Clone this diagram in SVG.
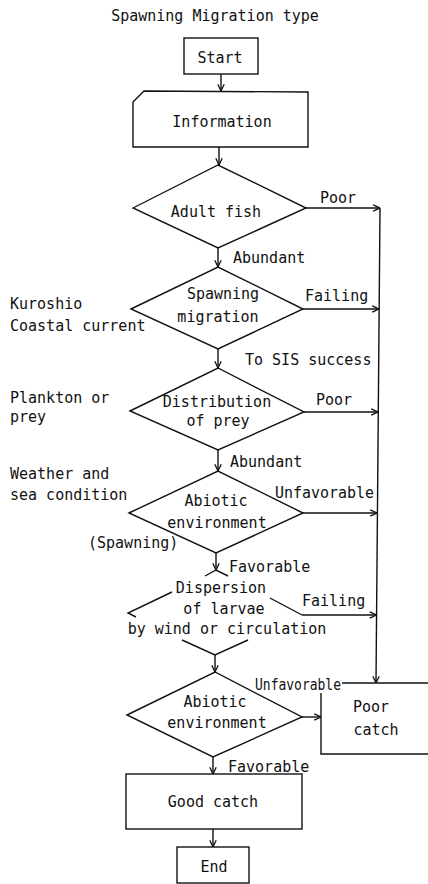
<svg xmlns="http://www.w3.org/2000/svg" width="428" height="884" viewBox="0 0 428 884">
<defs>
<style>
.s{fill:none;stroke:#111;stroke-width:1.4;stroke-linejoin:miter}
.n{fill:#fff;stroke:#111;stroke-width:1.4}
text{font-family:"DejaVu Sans Mono","Liberation Mono",monospace;font-size:15px;fill:#111}
.m{text-anchor:middle}
.c{fill:none;stroke:#111;stroke-width:1.4;marker-end:url(#ah)}
</style>
<marker id="ah" viewBox="0 0 10 10" refX="9.5" refY="5" markerWidth="8" markerHeight="8" markerUnits="userSpaceOnUse" orient="auto">
<path d="M1,1 L9.5,5 L1,9" fill="none" stroke="#111" stroke-width="1.6"/>
</marker>
</defs>
<rect width="428" height="884" fill="#fff"/>
<text x="215" y="21" class="m">Spawning Migration type</text>

<g id="connectors">
<line class="c" x1="221" y1="74" x2="221" y2="91"/>
<line class="c" x1="219" y1="147" x2="219" y2="165"/>
<line class="c" x1="218" y1="248" x2="218" y2="267"/>
<line class="c" x1="218" y1="349" x2="218" y2="368"/>
<line class="c" x1="218" y1="450" x2="218" y2="471"/>
<line class="c" x1="216" y1="553" x2="216" y2="570"/>
<line class="c" x1="215" y1="655" x2="215" y2="672"/>
<line class="c" x1="213" y1="757" x2="213" y2="774"/>
<line class="c" x1="213" y1="829" x2="213" y2="847"/>
<line class="c" x1="306" y1="208" x2="380" y2="208"/>
<line class="c" x1="303" y1="309" x2="379" y2="309"/>
<line class="c" x1="304" y1="412" x2="378" y2="412"/>
<line class="c" x1="303" y1="513" x2="377" y2="513"/>
<line class="c" x1="302" y1="615" x2="376.5" y2="615"/>
<line class="c" x1="380" y1="208" x2="376" y2="683"/>
<line class="c" x1="302" y1="717" x2="321" y2="717"/>
</g>

<g id="start">
<rect class="n" x="184" y="38" width="74" height="36"/>
<text x="220" y="63" class="m">Start</text>
</g>
<g id="information">
<path class="n" d="M133,102 L144,91 L308,92 L308,147 L133,147 Z"/>
<text x="222" y="127" class="m">Information</text>
</g>
<g id="adult-fish">
<polygon class="n" points="133,208 218,165 306,208 218,248"/>
<text x="216" y="217" class="m">Adult fish</text>
</g>
<g id="spawning-migration">
<polygon class="n" points="131,309 218,267 303,309 218,349"/>
<text x="223" y="299" class="m">Spawning</text>
<text x="218" y="322" class="m">migration</text>
</g>
<g id="distribution-of-prey">
<polygon class="n" points="130,411 218,368 304,412 218,450"/>
<text x="217" y="407" class="m">Distribution</text>
<text x="218" y="426" class="m">of prey</text>
</g>
<g id="abiotic-spawning">
<polygon class="n" points="129,513 218,471 303,513 216,553"/>
<text x="216" y="506" class="m">Abiotic</text>
<text x="217" y="528" class="m">environment</text>
</g>
<g id="dispersion">
<path class="s" d="M205,576 L216,570 L228,576 M172,592 L128,613 L136,617 M270,598 L302,615 M182,640 L215,655 L248,640"/>
<text x="221" y="593" class="m">Dispersion</text>
<text x="224" y="614" class="m">of larvae</text>
<text x="227" y="634" class="m">by wind or circulation</text>
</g>
<g id="abiotic-larvae">
<polygon class="n" points="127,715 215,672 302,717 213,757"/>
<text x="215" y="707" class="m">Abiotic</text>
<text x="217" y="728" class="m">environment</text>
</g>
<g id="poor-catch">
<path class="s" d="M342,683 L428,683 M321,693 L321,754 L428,754"/>
<text x="371" y="712" class="m">Poor</text>
<text x="376" y="735" class="m">catch</text>
</g>
<g id="good-catch">
<rect class="n" x="126" y="774" width="176" height="55"/>
<text x="213" y="807" class="m">Good catch</text>
</g>
<g id="end">
<rect class="n" x="177" y="847" width="72" height="36"/>
<text x="214" y="872" class="m">End</text>
</g>

<g id="labels">
<text x="320" y="203">Poor</text>
<text x="233" y="263">Abundant</text>
<text x="305" y="301">Failing</text>
<text x="10" y="309">Kuroshio</text>
<text x="10" y="331">Coastal current</text>
<text x="245" y="365">To SIS success</text>
<text x="10" y="403">Plankton or</text>
<text x="10" y="422">prey</text>
<text x="316" y="405">Poor</text>
<text x="230" y="467">Abundant</text>
<text x="10" y="479">Weather and</text>
<text x="10" y="500">sea condition</text>
<text x="275" y="498" textLength="99" lengthAdjust="spacingAndGlyphs">Unfavorable</text>
<text x="88" y="548">(Spawning)</text>
<text x="229" y="572">Favorable</text>
<text x="302" y="606">Failing</text>
<text x="255" y="690" textLength="86" lengthAdjust="spacingAndGlyphs">Unfavorable</text>
<text x="228" y="772">Favorable</text>
</g>
</svg>
